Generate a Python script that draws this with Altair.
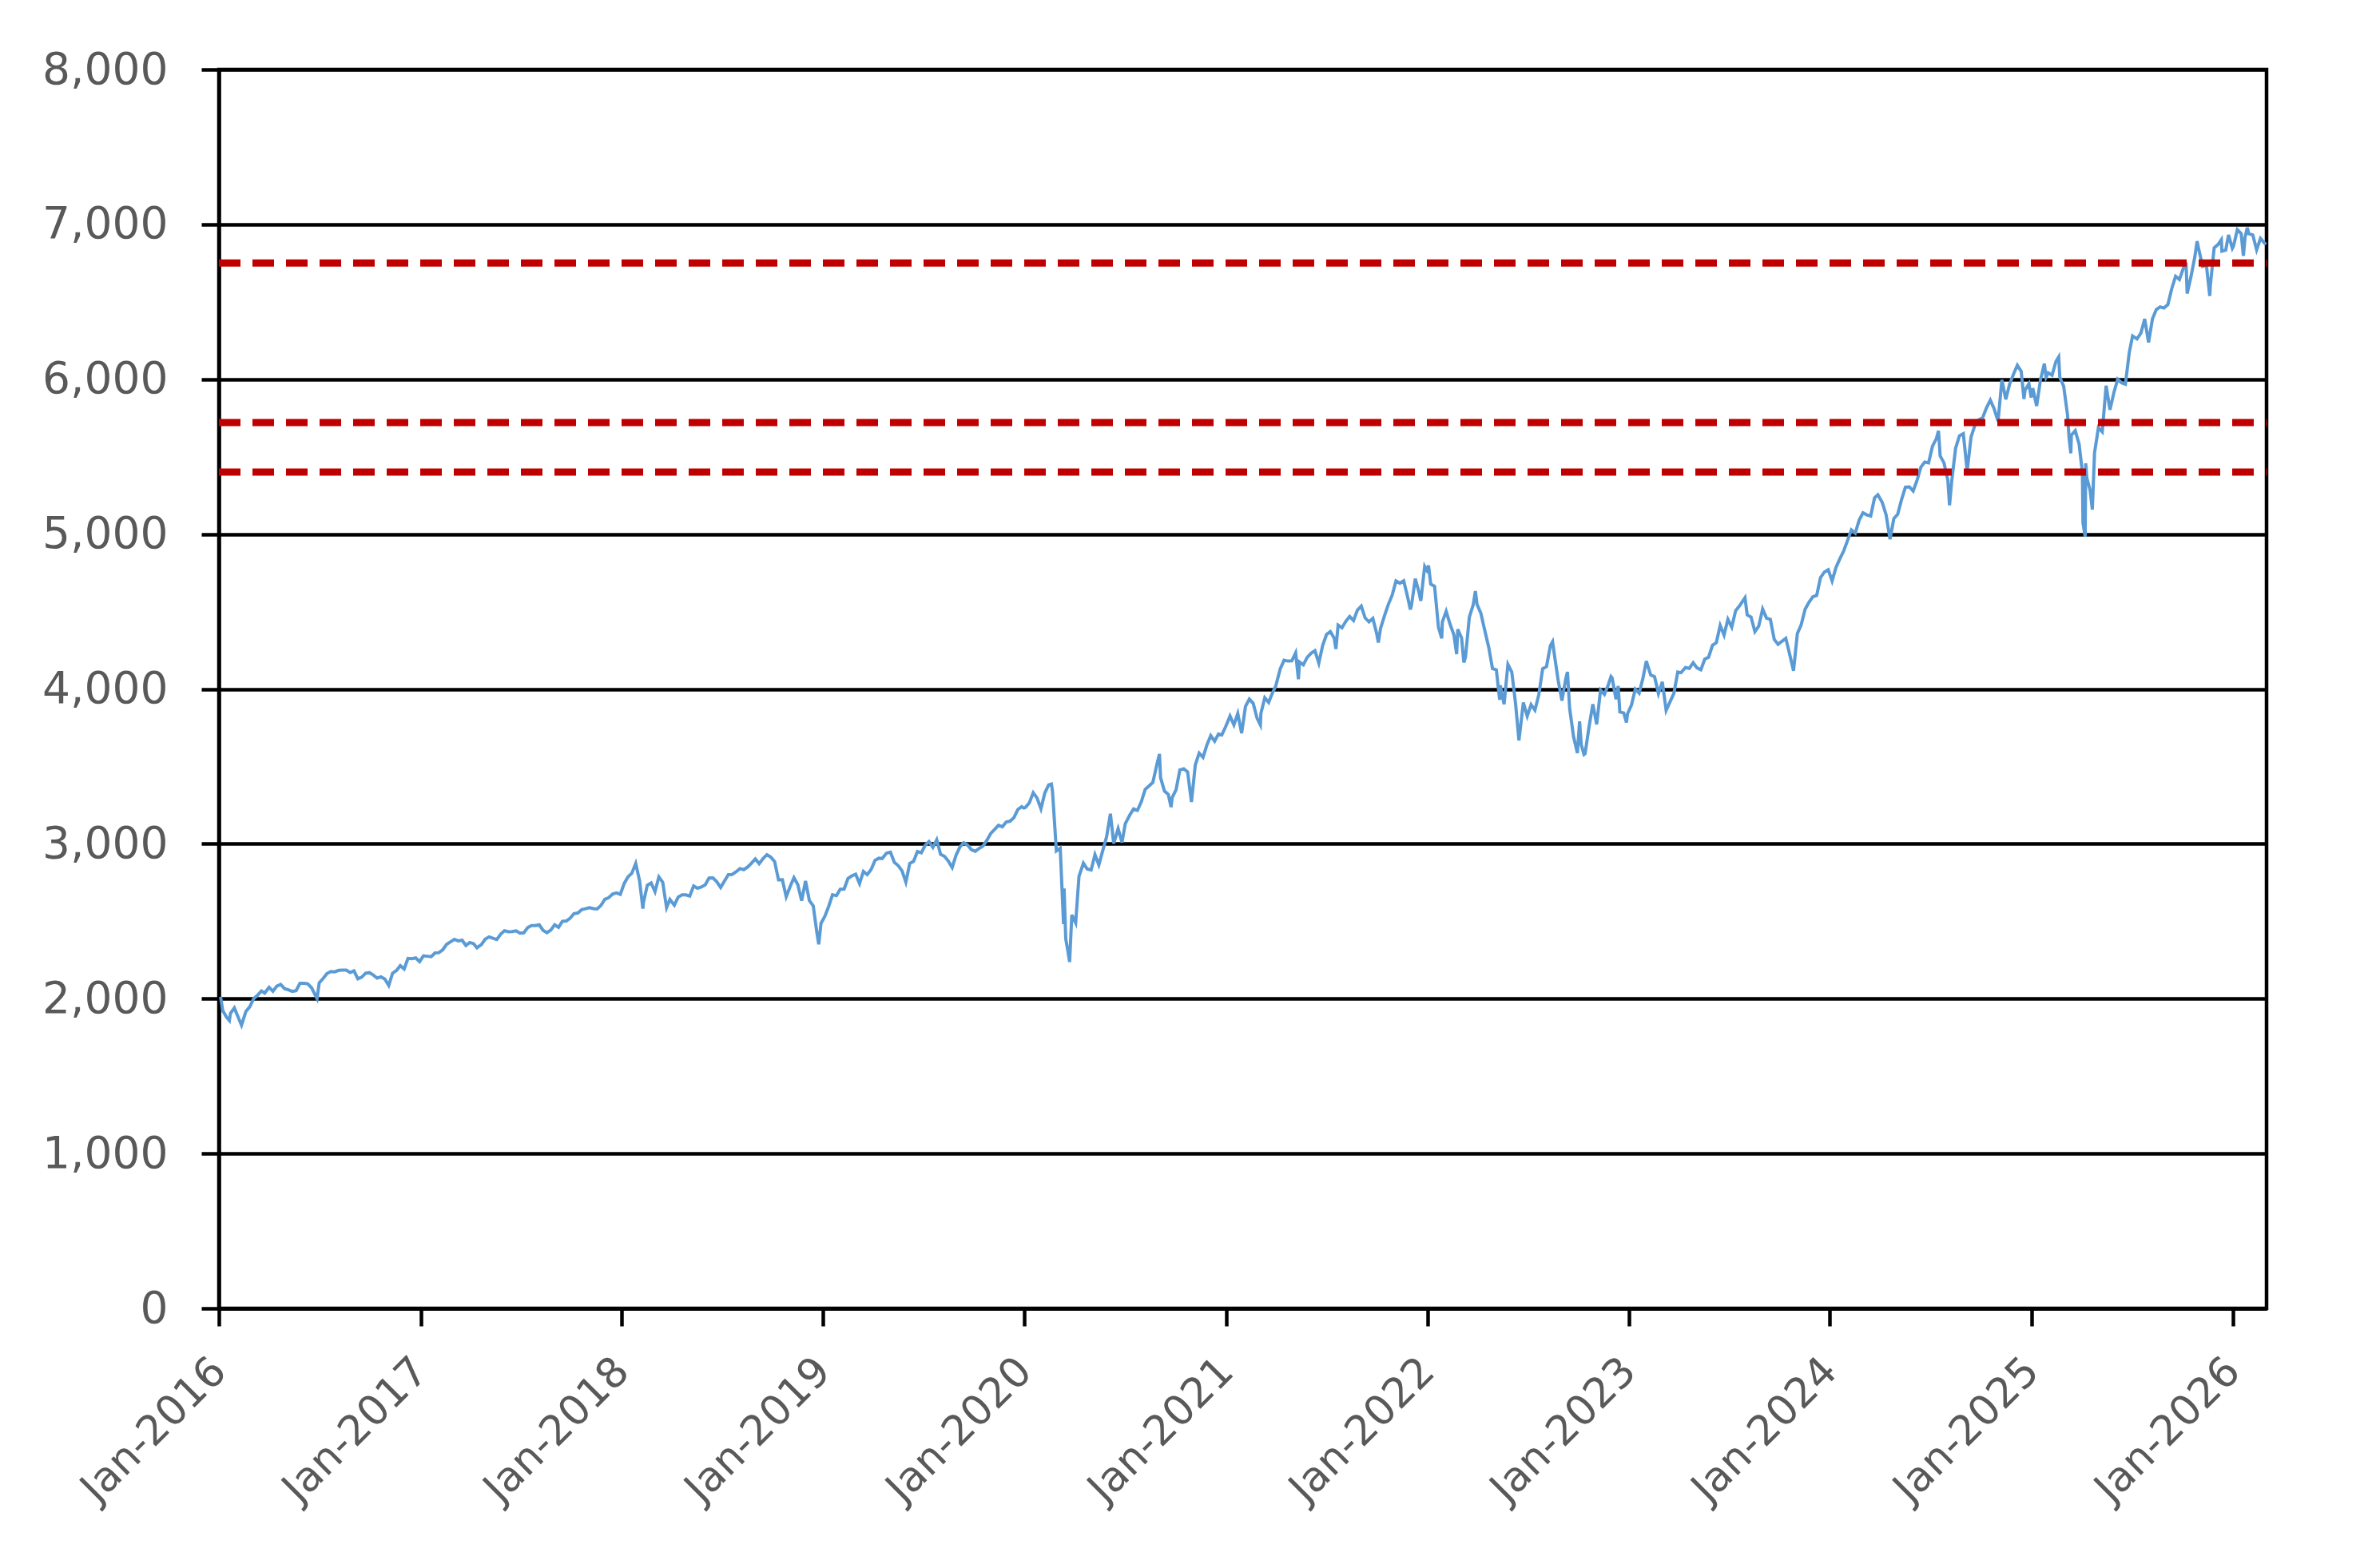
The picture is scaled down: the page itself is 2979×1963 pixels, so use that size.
import altair as alt
import pandas as pd

# ---- data (weekly-ish closes) ----
dates_2016 = ["2016-01-04","2016-01-08","2016-01-15","2016-01-20","2016-01-22","2016-01-29","2016-02-05","2016-02-11","2016-02-19","2016-02-26",
              "2016-03-04","2016-03-11","2016-03-18","2016-03-24","2016-04-01","2016-04-08","2016-04-15","2016-04-22","2016-04-29","2016-05-06",
              "2016-05-13","2016-05-20","2016-05-27","2016-06-03","2016-06-10","2016-06-17","2016-06-27","2016-07-01","2016-07-08","2016-07-15",
              "2016-07-22","2016-07-29","2016-08-05","2016-08-12","2016-08-19","2016-08-26","2016-09-02","2016-09-09","2016-09-16","2016-09-23",
              "2016-09-30","2016-10-07","2016-10-14","2016-10-21","2016-10-28","2016-11-04","2016-11-11","2016-11-18","2016-11-25","2016-12-02",
              "2016-12-09","2016-12-16","2016-12-23","2016-12-30"]
values_2016 = [2012,1922,1880,1859,1906,1940,1880,1829,1918,1948,
               2000,2022,2050,2036,2073,2048,2081,2092,2065,2057,
               2047,2052,2099,2099,2096,2071,2001,2103,2130,2162,
               2175,2173,2183,2184,2184,2169,2180,2128,2139,2164,
               2168,2153,2133,2141,2126,2085,2164,2182,2213,2192,
               2260,2258,2263,2239]

dates_2017 = ["2017-01-06","2017-01-13","2017-01-20","2017-01-27","2017-02-03","2017-02-10","2017-02-17","2017-02-24","2017-03-03","2017-03-10",
              "2017-03-17","2017-03-24","2017-03-31","2017-04-07","2017-04-13","2017-04-21","2017-04-28","2017-05-05","2017-05-12","2017-05-19",
              "2017-05-26","2017-06-02","2017-06-09","2017-06-16","2017-06-23","2017-06-30","2017-07-07","2017-07-14","2017-07-21","2017-07-28",
              "2017-08-04","2017-08-11","2017-08-18","2017-08-25","2017-09-01","2017-09-08","2017-09-15","2017-09-22","2017-09-29","2017-10-06",
              "2017-10-13","2017-10-20","2017-10-27","2017-11-03","2017-11-10","2017-11-17","2017-11-24","2017-12-01","2017-12-08","2017-12-15",
              "2017-12-22","2017-12-29"]
values_2017 = [2277,2274,2271,2295,2297,2316,2351,2367,2383,2373,
               2378,2344,2363,2355,2329,2349,2384,2399,2390,2382,
               2416,2439,2432,2433,2438,2423,2425,2459,2472,2472,
               2477,2441,2426,2443,2477,2461,2500,2502,2519,2549,
               2553,2575,2581,2588,2582,2579,2602,2642,2652,2675,
               2683,2674]

dates_2018 = ["2018-01-05","2018-01-12","2018-01-19","2018-01-26","2018-02-02","2018-02-08","2018-02-09","2018-02-16","2018-02-23","2018-03-02",
              "2018-03-09","2018-03-16","2018-03-23","2018-03-29","2018-04-06","2018-04-13","2018-04-20","2018-04-27","2018-05-04","2018-05-11",
              "2018-05-18","2018-05-25","2018-06-01","2018-06-08","2018-06-15","2018-06-22","2018-06-29","2018-07-06","2018-07-13","2018-07-20",
              "2018-07-27","2018-08-03","2018-08-10","2018-08-17","2018-08-24","2018-08-31","2018-09-07","2018-09-14","2018-09-21","2018-09-28",
              "2018-10-05","2018-10-12","2018-10-19","2018-10-26","2018-11-02","2018-11-09","2018-11-16","2018-11-23","2018-11-30","2018-12-07",
              "2018-12-14","2018-12-21","2018-12-24","2018-12-28"]
values_2018 = [2743,2786,2810,2873,2762,2581,2620,2732,2747,2691,
               2786,2752,2588,2641,2604,2656,2670,2670,2663,2728,
               2713,2721,2735,2779,2780,2755,2718,2760,2801,2802,
               2819,2840,2833,2850,2875,2902,2872,2905,2930,2914,
               2885,2767,2768,2658,2723,2781,2736,2633,2760,2633,
               2600,2417,2351,2486]

dates_2019 = ["2019-01-04","2019-01-11","2019-01-18","2019-01-25","2019-02-01","2019-02-08","2019-02-15","2019-02-22","2019-03-01","2019-03-08",
              "2019-03-15","2019-03-22","2019-03-29","2019-04-05","2019-04-12","2019-04-18","2019-04-26","2019-05-03","2019-05-10","2019-05-17",
              "2019-05-24","2019-05-31","2019-06-07","2019-06-14","2019-06-21","2019-06-28","2019-07-05","2019-07-12","2019-07-19","2019-07-26",
              "2019-08-02","2019-08-09","2019-08-16","2019-08-23","2019-08-30","2019-09-06","2019-09-13","2019-09-20","2019-09-27","2019-10-04",
              "2019-10-11","2019-10-18","2019-10-25","2019-11-01","2019-11-08","2019-11-15","2019-11-22","2019-11-29","2019-12-06","2019-12-13",
              "2019-12-20","2019-12-27","2019-12-31"]
values_2019 = [2532,2596,2671,2665,2707,2708,2776,2793,2804,2743,
               2822,2801,2834,2893,2907,2905,2940,2946,2881,2860,
               2826,2752,2873,2887,2950,2942,2990,3014,2977,3026,
               2932,2919,2889,2847,2926,2979,3007,2992,2962,2952,
               2970,2986,3023,3067,3093,3120,3110,3141,3146,3169,
               3221,3240,3231]

dates_2020 = ["2020-01-03","2020-01-10","2020-01-17","2020-01-24","2020-01-31","2020-02-07","2020-02-14","2020-02-19","2020-02-21","2020-02-28",
              "2020-03-06","2020-03-12","2020-03-13","2020-03-16","2020-03-20","2020-03-23","2020-03-27","2020-04-03","2020-04-09","2020-04-17",
              "2020-04-24","2020-05-01","2020-05-08","2020-05-15","2020-05-22","2020-05-29","2020-06-05","2020-06-11","2020-06-19","2020-06-26",
              "2020-07-02","2020-07-10","2020-07-17","2020-07-24","2020-07-31","2020-08-07","2020-08-14","2020-08-21","2020-08-28","2020-09-02",
              "2020-09-04","2020-09-11","2020-09-18","2020-09-23","2020-09-25","2020-10-02","2020-10-09","2020-10-16","2020-10-23","2020-10-30",
              "2020-11-06","2020-11-13","2020-11-20","2020-11-27","2020-12-04","2020-12-11","2020-12-18","2020-12-24","2020-12-31"]
values_2020 = [3235,3265,3330,3295,3226,3328,3380,3386,3338,2954,
               2972,2481,2711,2386,2305,2237,2541,2489,2790,2875,
               2837,2831,2930,2864,2955,3044,3194,3002,3098,3009,
               3130,3185,3225,3216,3271,3351,3373,3397,3508,3580,
               3427,3341,3319,3237,3298,3348,3477,3484,3465,3270,
               3510,3585,3558,3638,3699,3663,3709,3703,3756]

dates_2021 = ["2021-01-08","2021-01-15","2021-01-22","2021-01-29","2021-02-05","2021-02-12","2021-02-19","2021-02-26","2021-03-04","2021-03-05",
              "2021-03-12","2021-03-19","2021-03-26","2021-04-01","2021-04-09","2021-04-16","2021-04-23","2021-04-30","2021-05-07","2021-05-12",
              "2021-05-14","2021-05-21","2021-05-28","2021-06-04","2021-06-11","2021-06-18","2021-06-25","2021-07-02","2021-07-09","2021-07-16",
              "2021-07-19","2021-07-23","2021-07-30","2021-08-06","2021-08-13","2021-08-20","2021-08-27","2021-09-03","2021-09-10","2021-09-17",
              "2021-09-24","2021-10-01","2021-10-04","2021-10-08","2021-10-15","2021-10-22","2021-10-29","2021-11-05","2021-11-12","2021-11-19",
              "2021-11-26","2021-12-01","2021-12-03","2021-12-10","2021-12-17","2021-12-20","2021-12-27","2021-12-31"]
values_2021 = [3825,3768,3841,3714,3887,3934,3907,3811,3768,3842,
               3943,3913,3975,4020,4129,4185,4180,4181,4233,4063,
               4174,4156,4204,4230,4247,4167,4281,4352,4370,4327,
               4258,4412,4395,4437,4468,4442,4509,4535,4459,4433,
               4455,4357,4300,4391,4471,4545,4605,4697,4683,4698,
               4595,4513,4538,4712,4620,4568,4791,4766]

dates_2022 = ["2022-01-03","2022-01-07","2022-01-14","2022-01-21","2022-01-27","2022-01-28","2022-02-04","2022-02-11","2022-02-18","2022-02-23",
              "2022-02-25","2022-03-04","2022-03-08","2022-03-11","2022-03-18","2022-03-25","2022-03-29","2022-04-01","2022-04-08","2022-04-14",
              "2022-04-22","2022-04-29","2022-05-06","2022-05-12","2022-05-13","2022-05-20","2022-05-27","2022-06-03","2022-06-10","2022-06-16",
              "2022-06-24","2022-07-01","2022-07-08","2022-07-15","2022-07-22","2022-07-29","2022-08-05","2022-08-12","2022-08-16","2022-08-19",
              "2022-08-26","2022-09-02","2022-09-09","2022-09-12","2022-09-16","2022-09-23","2022-09-30","2022-10-04","2022-10-07","2022-10-12",
              "2022-10-14","2022-10-21","2022-10-28","2022-11-04","2022-11-11","2022-11-18","2022-11-25","2022-11-30","2022-12-02","2022-12-09",
              "2022-12-13","2022-12-16","2022-12-23","2022-12-28","2022-12-30"]
values_2022 = [4797,4677,4663,4398,4327,4432,4501,4419,4349,4225,
               4385,4329,4171,4204,4463,4543,4632,4546,4488,4393,
               4272,4132,4123,3930,4024,3901,4158,4109,3901,3667,
               3912,3825,3899,3863,3962,4130,4145,4280,4305,4228,
               4058,3924,4067,4110,3873,3693,3586,3791,3640,3577,
               3583,3752,3901,3771,3993,3965,4026,4080,4072,3934,
               4019,3852,3845,3783,3840]

dates_2023 = ["2023-01-06","2023-01-13","2023-01-20","2023-01-27","2023-02-02","2023-02-10","2023-02-17","2023-02-24","2023-03-03","2023-03-10",
              "2023-03-17","2023-03-24","2023-03-31","2023-04-06","2023-04-14","2023-04-21","2023-04-28","2023-05-05","2023-05-12","2023-05-19",
              "2023-05-26","2023-06-02","2023-06-09","2023-06-16","2023-06-23","2023-06-30","2023-07-07","2023-07-14","2023-07-21","2023-07-31",
              "2023-08-04","2023-08-11","2023-08-18","2023-08-25","2023-09-01","2023-09-08","2023-09-15","2023-09-22","2023-09-29","2023-10-06",
              "2023-10-13","2023-10-20","2023-10-27","2023-11-03","2023-11-10","2023-11-17","2023-11-24","2023-12-01","2023-12-08","2023-12-15",
              "2023-12-22","2023-12-29"]
values_2023 = [3895,3999,3973,4071,4180,4090,4079,3970,4046,3862,
               3917,3971,4109,4105,4138,4133,4169,4136,4124,4192,
               4205,4282,4299,4410,4348,4450,4399,4505,4536,4589,
               4478,4464,4370,4406,4516,4457,4450,4320,4288,4308,
               4327,4224,4117,4358,4415,4514,4559,4595,4604,4719,
               4755,4770]

dates_2024 = ["2024-01-05","2024-01-12","2024-01-19","2024-01-26","2024-02-02","2024-02-09","2024-02-16","2024-02-23","2024-03-01","2024-03-08",
              "2024-03-15","2024-03-22","2024-03-28","2024-04-05","2024-04-12","2024-04-19","2024-04-26","2024-05-03","2024-05-10","2024-05-17",
              "2024-05-24","2024-05-31","2024-06-07","2024-06-14","2024-06-21","2024-06-28","2024-07-05","2024-07-12","2024-07-16","2024-07-19",
              "2024-07-26","2024-08-02","2024-08-05","2024-08-09","2024-08-16","2024-08-23","2024-08-30","2024-09-06","2024-09-13","2024-09-20",
              "2024-09-27","2024-10-04","2024-10-11","2024-10-18","2024-10-25","2024-11-01","2024-11-08","2024-11-15","2024-11-22","2024-11-29",
              "2024-12-06","2024-12-13","2024-12-18","2024-12-20","2024-12-27","2024-12-31"]
values_2024 = [4697,4784,4840,4891,4959,5027,5006,5089,5137,5124,
               5117,5234,5254,5204,5123,4967,5100,5128,5223,5303,
               5305,5278,5347,5432,5465,5460,5567,5615,5667,5505,
               5459,5346,5186,5344,5554,5635,5648,5408,5626,5703,
               5738,5751,5815,5865,5808,5729,5996,5870,5969,6032,
               6090,6051,5872,5930,5971,5882]

dates_2025 = ["2025-01-03","2025-01-10","2025-01-17","2025-01-24","2025-01-27","2025-01-31","2025-02-07","2025-02-14","2025-02-19","2025-02-21",
              "2025-02-28","2025-03-07","2025-03-10","2025-03-13","2025-03-14","2025-03-21","2025-03-28","2025-04-03","2025-04-04","2025-04-08",
              "2025-04-09","2025-04-11","2025-04-17","2025-04-21","2025-04-25","2025-05-02","2025-05-09","2025-05-16","2025-05-23","2025-05-30",
              "2025-06-06","2025-06-13","2025-06-20","2025-06-27","2025-07-03","2025-07-11","2025-07-18","2025-07-25","2025-08-01","2025-08-08",
              "2025-08-15","2025-08-22","2025-08-29","2025-09-05","2025-09-12","2025-09-19","2025-09-26","2025-10-03","2025-10-08","2025-10-10",
              "2025-10-17","2025-10-24","2025-10-28","2025-10-31","2025-11-07","2025-11-14","2025-11-20","2025-11-21","2025-11-28","2025-12-05",
              "2025-12-11","2025-12-12","2025-12-19","2025-12-24","2025-12-31"]
values_2025 = [5942,5827,5997,6101,6012,6041,6026,6115,6144,6013,
               5955,5770,5615,5522,5639,5668,5581,5397,5074,4983,
               5457,5363,5283,5158,5525,5687,5660,5958,5803,5912,
               6000,5977,5968,6173,6279,6260,6297,6389,6238,6389,
               6450,6467,6460,6482,6584,6664,6644,6716,6753,6553,
               6664,6792,6891,6840,6729,6734,6538,6603,6849,6870,
               6901,6827,6834,6932,6845]

dates_2026 = ["2026-01-02","2026-01-09","2026-01-16","2026-01-20","2026-01-23","2026-01-27","2026-01-30","2026-02-06","2026-02-13","2026-02-20",
              "2026-02-27","2026-03-02"]
values_2026 = [6858,6966,6940,6797,6916,6978,6939,6932,6836,6909,
               6880,6870]

ref_levels = [6750, 5720, 5400]
y_ticks = [0, 1000, 2000, 3000, 4000, 5000, 6000, 7000, 8000]
x_tick_years = list(range(2016, 2027))

dates = (dates_2016 + dates_2017 + dates_2018 + dates_2019 + dates_2020 + dates_2021 +
         dates_2022 + dates_2023 + dates_2024 + dates_2025 + dates_2026)
values = (values_2016 + values_2017 + values_2018 + values_2019 + values_2020 + values_2021 +
          values_2022 + values_2023 + values_2024 + values_2025 + values_2026)

df = pd.DataFrame({"date": dates, "value": values})
df_ref = pd.DataFrame({"level": ref_levels})

FONT = "DejaVu Sans"
LABEL_COLOR = "#595959"
PLOT_W = 2563
PLOT_H = 1551
LINE_W = 4.5

x_enc = alt.X(
    "date:T",
    scale=alt.Scale(domain=[alt.DateTime(year=2016, month=1, date=1),
                            alt.DateTime(year=2026, month=3, date=3)]),
    axis=alt.Axis(
        values=[alt.DateTime(year=y, month=1, date=1) for y in x_tick_years],
        format="%b-%Y",
        labelAngle=-45,
        labelAlign="right",
        labelBaseline="middle",
        labelPadding=48,
        labelFont=FONT,
        labelFontSize=52,
        labelColor=LABEL_COLOR,
        labelLimit=0,
        labelOverlap=False,
        tickColor="black",
        tickWidth=LINE_W,
        tickSize=22,
        domainColor="black",
        domainWidth=LINE_W,
        grid=False,
        title=None,
    ),
)

y_enc = alt.Y(
    "value:Q",
    scale=alt.Scale(domain=[0, 8000], nice=False, zero=True),
    axis=alt.Axis(
        values=y_ticks,
        format=",.0f",
        labelFont=FONT,
        labelFontSize=55,
        labelColor=LABEL_COLOR,
        labelPadding=42,
        labelLimit=0,
        tickColor="black",
        tickWidth=LINE_W,
        tickSize=22,
        domainColor="black",
        domainWidth=LINE_W,
        grid=True,
        gridColor="black",
        gridWidth=LINE_W,
        gridOpacity=1,
        title=None,
    ),
)

line = alt.Chart(df).mark_line(color="#5B9BD5", strokeWidth=4).encode(x=x_enc, y=y_enc)

rules = alt.Chart(df_ref).mark_rule(
    color="#C00000", strokeWidth=9, strokeDash=[27, 15]
).encode(
    x=alt.value(0),
    x2=alt.value(PLOT_W),
    y=alt.Y("level:Q", scale=alt.Scale(domain=[0, 8000], nice=False)),
)

chart = (
    alt.layer(line, rules)
    .properties(
        width=PLOT_W,
        height=PLOT_H,
        autosize=alt.AutoSizeParams(type="none"),
        padding={"left": 266, "top": 79, "right": 120, "bottom": 310},
        background="white",
    )
    .configure_view(stroke="black", strokeWidth=LINE_W)
)

chart.save("out.html", embed_options={"renderer": "svg", "actions": False})
